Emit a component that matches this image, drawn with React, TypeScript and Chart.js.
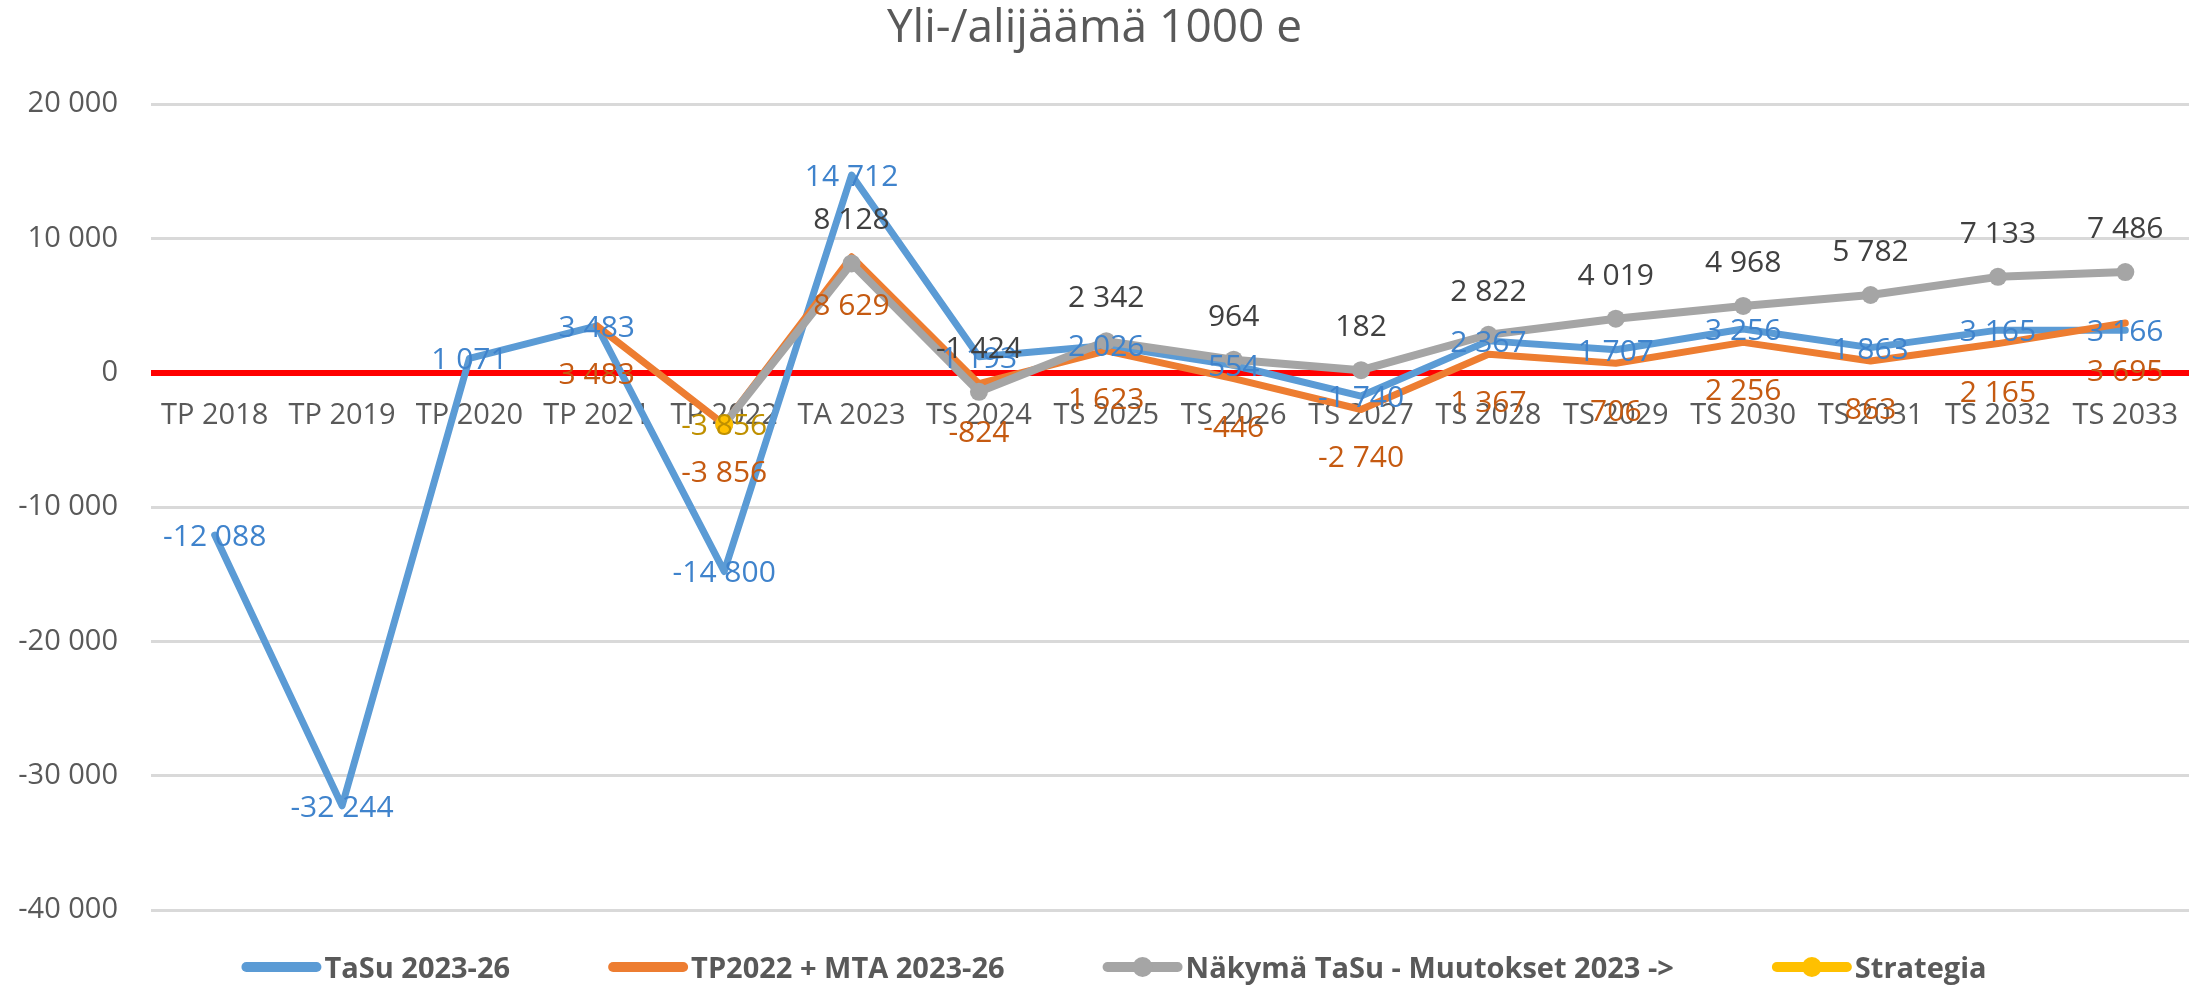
import React, { useEffect, useRef } from 'react';
import { Chart, registerables } from 'chart.js';

Chart.register(...registerables);

const TITLE = 'Yli-/alijäämä 1000 e';

const categories = [
  'TP 2018', 'TP 2019', 'TP 2020', 'TP 2021', 'TP 2022', 'TA 2023', 'TS 2024', 'TS 2025',
  'TS 2026', 'TS 2027', 'TS 2028', 'TS 2029', 'TS 2030', 'TS 2031', 'TS 2032', 'TS 2033',
];

const tasu = [-12088, -32244, 1071, 3483, -14800, 14712, 1193, 2026, 554, -1740, 2367, 1707, 3256, 1863, 3165, 3166];
const tp2022mta = [null, null, null, 3483, -3856, 8629, -824, 1623, -446, -2740, 1367, 706, 2256, 863, 2165, 3695];
const nakyma = [null, null, null, null, -3856, 8128, -1424, 2342, 964, 182, 2822, 4019, 4968, 5782, 7133, 7486];
const nakymaHiddenLabels = [4];
const strategia = [null, null, null, null, -3856, null, null, null, null, null, null, null, null, null, null, null];

const yMin = -40000;
const yMax = 20000;
const yStep = 10000;

const FONT = '"Open Sans", "Noto Sans", sans-serif';
const TEXT = '#595959';

function fmt(v: number): string {
  const s = Math.round(Math.abs(v)).toString();
  const parts: string[] = [];
  for (let i = s.length; i > 0; i -= 3) parts.unshift(s.slice(Math.max(0, i - 3), i));
  return (v < 0 ? '-' : '') + parts.join(' ');
}

const dataLabelPlugin = {
  id: 'dataLabelsCustom',
  afterDatasetsDraw(chart: any) {
    const ctx = chart.ctx;
    ctx.save();
    ctx.font = `30px ${FONT}`;
    ctx.textAlign = 'center';
    ctx.textBaseline = 'alphabetic';
    chart.data.datasets.forEach((ds: any, i: number) => {
      const meta = chart.getDatasetMeta(i);
      meta.data.forEach((pt: any, j: number) => {
        const v = ds.data[j];
        if (v === null || v === undefined) return;
        if (ds.hiddenLabels && ds.hiddenLabels.includes(j)) return;
        const x = pt.x;
        const y = pt.y + ds.labelOffset;
        ctx.fillStyle = ds.labelColor;
        ctx.fillText(fmt(v), x, y + 11);
      });
    });
    ctx.restore();
  },
};

const legendPlugin = {
  id: 'legendCustom',
  afterDraw(chart: any) {
    const ctx = chart.ctx;
    ctx.save();
    ctx.font = `bold 29px ${FONT}`;
    const lineW = 80;
    const gapText = 3;
    const gapItem = 98;
    const items = chart.data.datasets.map((ds: any) => ({
      text: ds.label,
      color: ds.borderColor,
      marker: ds.legendMarker,
      w: ctx.measureText(ds.label).width,
    }));
    const total = items.reduce((a: number, it: any) => a + lineW + gapText + it.w, 0) + gapItem * (items.length - 1);
    let x = chart.width / 2 - total / 2 + 10;
    const y = 967;
    items.forEach((it: any) => {
      ctx.strokeStyle = it.color;
      ctx.lineWidth = 10;
      ctx.lineCap = 'round';
      ctx.beginPath();
      ctx.moveTo(x + 5, y);
      ctx.lineTo(x + lineW - 5, y);
      ctx.stroke();
      if (it.marker) {
        ctx.fillStyle = it.color;
        ctx.beginPath();
        ctx.arc(x + lineW / 2, y, 10, 0, Math.PI * 2);
        ctx.fill();
      }
      ctx.fillStyle = TEXT;
      ctx.textAlign = 'left';
      ctx.textBaseline = 'alphabetic';
      ctx.fillText(it.text, x + lineW + gapText, y + 11);
      x += lineW + gapText + it.w + gapItem;
    });
    ctx.restore();
  },
};

export default function App() {
  const ref = useRef<HTMLCanvasElement | null>(null);

  useEffect(() => {
    if (!ref.current) return;
    const chart = new Chart(ref.current, {
      type: 'line',
      data: {
        labels: categories,
        datasets: [
          {
            label: 'TaSu 2023-26',
            data: tasu,
            borderColor: '#5B9BD5',
            backgroundColor: '#5B9BD5',
            borderWidth: 7,
            pointRadius: 0,
            order: 4,
            labelOffset: 0,
            labelColor: '#3F83CC',
            legendMarker: false,
          } as any,
          {
            label: 'TP2022 + MTA 2023-26',
            data: tp2022mta,
            borderColor: '#ED7D31',
            backgroundColor: '#ED7D31',
            borderWidth: 7,
            pointRadius: 0,
            order: 3,
            labelOffset: 47,
            labelColor: '#C55A11',
            legendMarker: false,
          } as any,
          {
            label: 'Näkymä TaSu - Muutokset 2023 ->',
            data: nakyma,
            borderColor: '#A5A5A5',
            backgroundColor: '#A5A5A5',
            borderWidth: 8,
            pointRadius: 9,
            pointBorderWidth: 0,
            pointBackgroundColor: '#A5A5A5',
            order: 2,
            labelOffset: -45,
            labelColor: '#404040',
            hiddenLabels: nakymaHiddenLabels,
            legendMarker: true,
          } as any,
          {
            label: 'Strategia',
            data: strategia,
            borderColor: '#FFC000',
            backgroundColor: '#FFC000',
            borderWidth: 7,
            pointRadius: 9,
            pointBorderWidth: 0,
            pointBackgroundColor: '#FFC000',
            order: 1,
            labelOffset: 0,
            labelColor: '#BF9000',
            legendMarker: true,
          } as any,
        ],
      },
      options: {
        responsive: false,
        animation: false,
        devicePixelRatio: 1,
        events: [],
        layout: { padding: { left: 0, right: 19, top: 0, bottom: 75 } },
        elements: {
          line: { tension: 0, borderJoinStyle: 'round', borderCapStyle: 'round' },
        },
        plugins: {
          legend: { display: false },
          tooltip: { enabled: false },
          title: {
            display: true,
            text: TITLE,
            color: TEXT,
            font: { family: FONT, size: 46, weight: 'normal' },
            padding: { top: 1, bottom: 47.8 },
          },
        },
        scales: {
          x: {
            type: 'category',
            offset: true,
            position: { y: 0 } as any,
            grid: { display: false, drawTicks: false },
            border: { display: false },
            ticks: {
              color: TEXT,
              font: { family: FONT, size: 29 },
              padding: 26,
              maxRotation: 0,
              autoSkip: false,
            },
          },
          y: {
            min: yMin,
            max: yMax,
            afterFit: (scale: any) => { scale.width = 151; },
            grid: {
              drawTicks: false,
              color: (c: any) => (c.tick && c.tick.value === 0 ? '#FF0000' : '#D9D9D9'),
              lineWidth: (c: any) => (c.tick && c.tick.value === 0 ? 6 : 3),
            },
            border: { display: false },
            ticks: {
              stepSize: yStep,
              color: TEXT,
              font: { family: FONT, size: 29 },
              padding: 33,
              callback: (v: any) => fmt(Number(v)),
            },
          },
        },
      },
      plugins: [dataLabelPlugin, legendPlugin],
    });
    return () => chart.destroy();
  }, []);

  return (
    <div style={{ position: 'fixed', left: 0, top: 0, width: 2208, height: 985, background: '#fff' }}>
      <canvas ref={ref} width={2208} height={985} />
    </div>
  );
}
